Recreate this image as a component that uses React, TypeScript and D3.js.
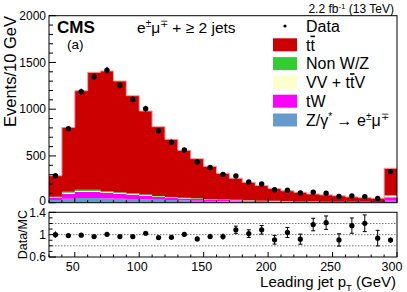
import React, { useEffect, useRef } from 'react';
import * as d3 from 'd3';

// lower edge of each 10 GeV bin, last one holds the overflow
const binLow = [30, 40, 50, 60, 70, 80, 90, 100, 110, 120, 130, 140, 150, 160, 170, 180, 190, 200, 210, 220, 230, 240, 250, 260, 270, 280, 290];

const ttbar = [225, 689, 1059, 1256, 1286, 1191, 1044, 892, 741, 616, 507, 424, 349, 279, 231, 193, 162, 132, 110, 98, 81, 73, 63, 53, 45, 40, 289];
const nonWZ = [5, 10, 14, 14, 10, 9, 8, 7, 6, 5, 4, 4, 3, 3, 3, 2, 2, 2, 2, 1, 1, 1, 1, 1, 1, 1, 4];
const vvttV = [6, 14, 11, 11, 10, 9, 8, 7, 6, 5, 4, 4, 3, 3, 3, 2, 2, 2, 2, 1, 1, 1, 1, 1, 1, 1, 18];
const tW = [25, 50, 64, 64, 57, 50, 46, 39, 28, 24, 20, 17, 15, 13, 11, 9, 8, 7, 6, 5, 5, 4, 4, 3, 3, 3, 36];
const dyEmu = [28, 43, 50, 50, 46, 43, 39, 36, 32, 28, 25, 22, 19, 16, 14, 12, 10, 9, 8, 7, 6, 5, 5, 4, 4, 3, 21];
const dataCounts = [289, 792, 1186, 1348, 1416, 1256, 1105, 1006, 770, 646, 563, 435, 376, 303, 285, 222, 200, 138, 133, 103, 111, 102, 67, 72, 65, 45, 332];

const yTicks = [0, 500, 1000, 1500, 2000];
const xTicks = [50, 100, 150, 200, 250, 300];
const ratioTicks = [0.6, 1, 1.4];

const FONT = 'Liberation Sans, Arial, Helvetica, sans-serif';

export default function App() {
  const ref = useRef<SVGSVGElement>(null);

  useEffect(() => {
    const svg = d3.select(ref.current);
    svg.selectAll('*').remove();

    const left = 49, right = 397, top = 15.7, bottom = 202.7;
    const rTop = 212.3, rBottom = 257;

    const x = d3.scaleLinear().domain([30, 300]).range([left, right]);
    const y = d3.scaleLinear().domain([0, 2000]).range([bottom, top]);
    const yr = d3.scaleLinear().domain([0.6, 1.4]).range([rBottom, rTop]);

    const rows = binLow.map((lo, i) => ({
      lo, dy: dyEmu[i], tW: tW[i], vv: vvttV[i], nonWZ: nonWZ[i], tt: ttbar[i]
    }));
    const keys = ['dy', 'tW', 'vv', 'nonWZ', 'tt'];
    const colors: any = { dy: '#6699cc', tW: '#ff00ff', vv: '#ffffcc', nonWZ: '#33cc33', tt: '#cc0000' };

    const series = d3.stack<any>().keys(keys)(rows);

    const area = d3.area<any>()
      .curve(d3.curveStepAfter)
      .x((d: any) => x(d.data.lo))
      .y0((d: any) => y(d[0]))
      .y1((d: any) => y(d[1]));

    const topLine = d3.line<any>()
      .curve(d3.curveStepAfter)
      .x((d: any) => x(d.data.lo))
      .y((d: any) => y(d[1]));

    series.forEach((s: any) => {
      const last = s[s.length - 1];
      const end: any = [last[0], last[1]];
      end.data = { lo: 300 };
      const pts = [...s, end];
      svg.append('path').attr('d', area(pts)).attr('fill', colors[s.key]);
      if (s.key === 'tt') {
        svg.append('path').attr('d', topLine(pts))
          .attr('fill', 'none').attr('stroke', '#f2a0a0').attr('stroke-width', 1);
      }
    });

    // main frame
    svg.append('rect').attr('x', left).attr('y', top)
      .attr('width', right - left).attr('height', bottom - top)
      .attr('fill', 'none').attr('stroke', '#000').attr('stroke-width', 1);

    // main ticks
    const edges = [...binLow, 300];
    edges.forEach(v => {
      const major = v % 50 === 0;
      const len = major ? 5 : 2.5;
      svg.append('line').attr('x1', x(v)).attr('x2', x(v))
        .attr('y1', bottom).attr('y2', bottom - len).attr('stroke', '#000');
      svg.append('line').attr('x1', x(v)).attr('x2', x(v))
        .attr('y1', rBottom).attr('y2', rBottom - len).attr('stroke', '#000');
    });
    d3.range(0, 2001, 100).forEach(v => {
      const len = v % 500 === 0 ? 7 : 4;
      svg.append('line').attr('x1', left).attr('x2', left + len)
        .attr('y1', y(v)).attr('y2', y(v)).attr('stroke', '#000');
    });

    svg.selectAll('.ytick').data(yTicks).enter().append('text')
      .attr('x', left - 3).attr('y', d => y(d) + (d === 0 ? 2.6 : 4.2))
      .attr('text-anchor', 'end').attr('font-size', 12).attr('font-family', FONT)
      .text(d => d);

    // data points main
    const pts = binLow.map((lo, i) => ({ c: lo + 5, n: dataCounts[i] }));
    pts.forEach(p => {
      const e = Math.sqrt(p.n);
      svg.append('line').attr('x1', x(p.c)).attr('x2', x(p.c))
        .attr('y1', y(p.n - e)).attr('y2', y(p.n + e)).attr('stroke', '#000').attr('stroke-width', 1);
      svg.append('circle').attr('cx', x(p.c)).attr('cy', y(p.n)).attr('r', 2.7).attr('fill', '#000');
    });

    // texts
    svg.append('text').attr('x', 57).attr('y', 33).attr('font-size', 17).attr('font-weight', 'bold')
      .attr('font-family', FONT).text('CMS');
    svg.append('text').attr('x', 67).attr('y', 49).attr('font-size', 13.5)
      .attr('font-family', FONT).text('(a)');

    const chan = svg.append('text').attr('x', 137).attr('y', 33).attr('font-size', 15.5).attr('font-family', FONT);
    chan.append('tspan').text('e');
    chan.append('tspan').attr('dy', -6).attr('font-size', 10).text('\u00b1');
    chan.append('tspan').attr('dy', 6).text('\u03bc');
    chan.append('tspan').attr('dy', -6).attr('font-size', 10).text('\u2213');
    chan.append('tspan').attr('dy', 6).text(' + \u2265 2 jets');

    const lumi = svg.append('text').attr('x', 394).attr('y', 12.5).attr('text-anchor', 'end')
      .attr('font-size', 12).attr('font-family', FONT);
    lumi.append('tspan').text('2.2 fb');
    lumi.append('tspan').attr('dy', -4).attr('font-size', 8).text('-1');
    lumi.append('tspan').attr('dy', 4).text(' (13 TeV)');

    svg.append('text')
      .attr('transform', 'translate(15.5,16) rotate(-90)')
      .attr('text-anchor', 'end').attr('font-size', 16.5).attr('font-family', FONT)
      .text('Events/10 GeV');

    // legend
    const legX = 273, legLabel = 306, legY0 = 26, legStep = 18.8;
    svg.append('circle').attr('cx', 285).attr('cy', legY0).attr('r', 1.6).attr('fill', '#000');
    const legKeys = ['tt', 'nonWZ', 'vv', 'tW', 'dy'];
    legKeys.forEach((k, i) => {
      const cy = legY0 + legStep * (i + 1);
      svg.append('rect').attr('x', legX).attr('y', cy - 6.5).attr('width', 24).attr('height', 13)
        .attr('fill', colors[k]);
    });
    const legText = (i: number) => svg.append('text').attr('x', legLabel).attr('y', legY0 + legStep * i + 5.8)
      .attr('font-size', 16).attr('font-family', FONT);
    legText(0).text('Data');
    const l1 = legText(1);
    l1.append('tspan').text('t');
    l1.append('tspan').style('text-decoration', 'overline').text('t');
    legText(2).text('Non W/Z');
    const l3 = legText(3);
    l3.append('tspan').text('VV + t');
    l3.append('tspan').style('text-decoration', 'overline').text('t');
    l3.append('tspan').text('V');
    legText(4).text('tW');
    const l5 = legText(5);
    l5.append('tspan').text('Z/\u03b3');
    l5.append('tspan').attr('dy', -6).attr('font-size', 10).text('*');
    l5.append('tspan').attr('dy', 6).text(' \u2192 e');
    l5.append('tspan').attr('dy', -6).attr('font-size', 10).text('\u00b1');
    l5.append('tspan').attr('dy', 6).text('\u03bc');
    l5.append('tspan').attr('dy', -6).attr('font-size', 10).text('\u2213');

    // ratio panel
    [0.8, 1, 1.2].forEach(v => {
      svg.append('line').attr('x1', left).attr('x2', right).attr('y1', yr(v)).attr('y2', yr(v))
        .attr('stroke', '#777').attr('stroke-width', 1).attr('stroke-dasharray', '1.5,1.5');
    });
    svg.append('rect').attr('x', left).attr('y', rTop)
      .attr('width', right - left).attr('height', rBottom - rTop)
      .attr('fill', 'none').attr('stroke', '#000').attr('stroke-width', 1);
    d3.range(6, 15).forEach(k => {
      const v = k / 10;
      const len = ratioTicks.some(t => Math.abs(t - v) < 1e-6) ? 7 : 3.5;
      svg.append('line').attr('x1', left).attr('x2', left + len)
        .attr('y1', yr(v)).attr('y2', yr(v)).attr('stroke', '#000');
    });
    svg.selectAll('.rtick').data(ratioTicks).enter().append('text')
      .attr('x', left - 3).attr('y', d => yr(d) + (d === 1.4 ? 5 : 4.2))
      .attr('text-anchor', 'end').attr('font-size', 12).attr('font-family', FONT)
      .text(d => d);

    svg.selectAll('.xtick').data(xTicks).enter().append('text')
      .attr('x', d => x(d) - (d === 300 ? 5 : 2)).attr('y', 270.5)
      .attr('text-anchor', 'middle').attr('font-size', 12.5).attr('font-family', FONT)
      .text(d => d);

    svg.append('text')
      .attr('transform', `translate(27,${(rTop + rBottom) / 2}) rotate(-90)`)
      .attr('text-anchor', 'middle').attr('font-size', 12.5).attr('font-family', FONT)
      .text('Data/MC');

    const xt = svg.append('text').attr('x', 396).attr('y', 287).attr('text-anchor', 'end')
      .attr('font-size', 15).attr('font-family', FONT);
    xt.append('tspan').text('Leading jet p');
    xt.append('tspan').attr('dy', 3.5).attr('font-size', 9.5).text('T');
    xt.append('tspan').attr('dy', -3.5).text(' (GeV)');

    binLow.forEach((lo, i) => {
      const mc = ttbar[i] + nonWZ[i] + vvttV[i] + tW[i] + dyEmu[i];
      const r = dataCounts[i] / mc;
      const e = Math.sqrt(dataCounts[i]) / mc;
      const cx = x(lo + 5);
      svg.append('line').attr('x1', cx).attr('x2', cx).attr('y1', yr(r - e)).attr('y2', yr(r + e))
        .attr('stroke', '#000');
      if (e > 0.06) {
        [r - e, r + e].forEach(v => svg.append('line').attr('x1', cx - 2).attr('x2', cx + 2)
          .attr('y1', yr(v)).attr('y2', yr(v)).attr('stroke', '#000'));
      }
      svg.append('circle').attr('cx', cx).attr('cy', yr(r)).attr('r', 2.6).attr('fill', '#000');
    });
  }, []);

  return (
    <svg ref={ref} width={407} height={292}
      style={{ position: 'absolute', left: 0, top: 0, background: '#fff' }} />
  );
}
